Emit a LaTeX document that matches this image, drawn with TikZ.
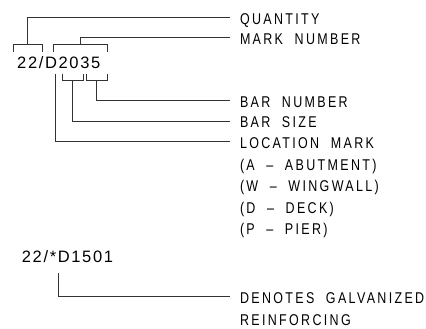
\documentclass[tikz,border=0pt]{standalone}
\usepackage{fontspec}
\setmainfont{Liberation Sans}
\newfontfamily\cadfont[FakeStretch=0.8,LetterSpace=15]{Liberation Sans}
\newfontfamily\markfont[LetterSpace=10]{Liberation Sans}
\begin{document}
\begin{tikzpicture}[
      x=1pt, y=-1pt,
      lead/.style={draw=black!80, line width=0.8pt},
      lbl/.style={anchor=west, inner sep=0pt, outer xsep=10pt, outer ysep=0pt,
                  text height=14pt, text depth=0pt,
                  font=\cadfont\fontsize{15.6}{18}\selectfont},
      code/.style={anchor=base west, inner sep=0pt,
                   font=\markfont\fontsize{16.5}{18}\selectfont}
    ]
    \useasboundingbox (0,0) rectangle (426,329);

    % Bar mark
    \node[code] (mark) at (17,69) {22/D2035};

    % Labels
    \node[lbl] (qty)  at (230,17.3)  {QUANTITY};
    \node[lbl] (num)  at (230,37.7)  {MARK\ \ NUMBER};
    \node[lbl] (bar)  at (230,100.5) {BAR\ \ NUMBER};
    \node[lbl] (size) at (230,121)   {BAR\ \ SIZE};
    \node[lbl] (loc)  at (230,141.5) {LOCATION\ \ MARK};
    \node[lbl] (abt)  at (230,163)   {(A\ \ \textendash\ \ ABUTMENT)};
    \node[lbl] (wng)  at (230,184.5) {(W\ \ \textendash\ \ WINGWALL)};
    \node[lbl] (dck)  at (230,206)   {(D\ \ \textendash\ \ DECK)};
    \node[lbl] (pier) at (230,227.5) {(P\ \ \textendash\ \ PIER)};

    % Brackets over the mark
    \draw[lead] (13.5,52) -- (13.5,44) -- (42,44) -- (42,52);
    \draw[lead] (53.3,52) -- (53.3,44) -- (107.7,44) -- (107.7,52);
    \coordinate (qb) at (27.5,44);
    \coordinate (nb) at (80.7,44);
    \draw[lead] (qb) |- (qty.west);
    \draw[lead] (nb) |- (num.west);

    % Brackets under the mark
    \draw[lead] (62,74) -- (62,80) -- (83,80) -- (83,74);
    \draw[lead] (86,74) -- (86,80) -- (107.7,80) -- (107.7,74);
    \coordinate (sb) at (72.7,80);
    \coordinate (bb) at (96.7,80);
    \coordinate (lb) at (55.7,74);
    \draw[lead] (bb) |- (bar.west);
    \draw[lead] (sb) |- (size.west);
    \draw[lead] (lb) |- (loc.west);

    % Galvanized mark
    \node[code] (galv) at (21.7,262.7) {22/*D1501};
    \node[lbl] (den) at (230,296.7) {DENOTES\ \ GALVANIZED};
    \node[lbl] (rnf) at (230,318.2) {REINFORCING};
    \coordinate (gb) at (58.3,273);
    \draw[lead] (gb) |- (den.west);
  \end{tikzpicture}
\end{document}
